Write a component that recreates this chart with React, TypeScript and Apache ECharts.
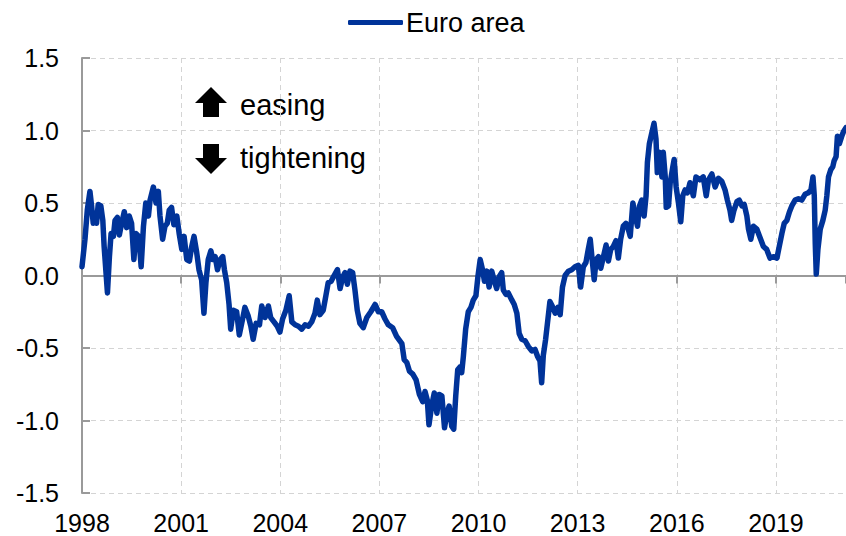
import React, { useEffect, useRef } from "react";
import * as echarts from "echarts";

const seriesName = "Euro area";
const yTicks = [-1.5, -1.0, -0.5, 0.0, 0.5, 1.0, 1.5];
const xTickYears = [1998, 2001, 2004, 2007, 2010, 2013, 2016, 2019];

const dates = [
  1998.00, 1998.09, 1998.16, 1998.24, 1998.29, 1998.34, 1998.39, 1998.44, 1998.49, 1998.57,
  1998.63, 1998.67, 1998.77, 1998.83, 1998.88, 1998.95, 1999.00, 1999.07, 1999.13, 1999.20,
  1999.28, 1999.35, 1999.43, 1999.50, 1999.57, 1999.63, 1999.72, 1999.79, 1999.86, 1999.93,
  2000.01, 2000.06, 2000.16, 2000.24, 2000.31, 2000.36, 2000.44, 2000.51, 2000.58, 2000.64,
  2000.71, 2000.78, 2000.87, 2000.94, 2001.02, 2001.09, 2001.17, 2001.25, 2001.32, 2001.39,
  2001.47, 2001.54, 2001.62, 2001.69, 2001.75, 2001.82, 2001.90, 2001.96, 2002.03, 2002.10,
  2002.18, 2002.26, 2002.31, 2002.38, 2002.45, 2002.50, 2002.58, 2002.68, 2002.76, 2002.86,
  2002.93, 2003.03, 2003.11, 2003.18, 2003.27, 2003.37, 2003.44, 2003.54, 2003.64, 2003.71,
  2003.81, 2003.91, 2003.99, 2004.07, 2004.17, 2004.27, 2004.35, 2004.45, 2004.55, 2004.65,
  2004.75, 2004.85, 2004.95, 2005.05, 2005.12, 2005.20, 2005.30, 2005.38, 2005.45, 2005.54,
  2005.63, 2005.73, 2005.81, 2005.89, 2005.96, 2006.03, 2006.11, 2006.19, 2006.26, 2006.33,
  2006.41, 2006.51, 2006.62, 2006.74, 2006.87, 2006.97, 2007.07, 2007.17, 2007.27, 2007.40,
  2007.52, 2007.68, 2007.75, 2007.83, 2007.91, 2008.01, 2008.11, 2008.21, 2008.31, 2008.38,
  2008.45, 2008.50, 2008.58, 2008.66, 2008.74, 2008.81, 2008.89, 2008.97, 2009.04, 2009.11,
  2009.19, 2009.25, 2009.31, 2009.37, 2009.44, 2009.49, 2009.54, 2009.61, 2009.69, 2009.77,
  2009.84, 2009.92, 2009.98, 2010.05, 2010.12, 2010.18, 2010.25, 2010.32, 2010.40, 2010.48,
  2010.55, 2010.62, 2010.70, 2010.75, 2010.83, 2010.90, 2011.01, 2011.08, 2011.16, 2011.23,
  2011.31, 2011.41, 2011.51, 2011.61, 2011.71, 2011.79, 2011.86, 2011.91, 2011.96, 2012.03,
  2012.10, 2012.16, 2012.23, 2012.32, 2012.40, 2012.47, 2012.54, 2012.62, 2012.72, 2012.82,
  2012.92, 2013.02, 2013.09, 2013.17, 2013.25, 2013.32, 2013.38, 2013.43, 2013.50, 2013.56,
  2013.63, 2013.70, 2013.78, 2013.86, 2013.93, 2014.00, 2014.08, 2014.16, 2014.23, 2014.30,
  2014.38, 2014.46, 2014.53, 2014.59, 2014.67, 2014.74, 2014.81, 2014.87, 2014.94, 2015.01,
  2015.07, 2015.11, 2015.17, 2015.24, 2015.31, 2015.37, 2015.41, 2015.47, 2015.55, 2015.59,
  2015.65, 2015.68, 2015.75, 2015.80, 2015.88, 2015.92, 2015.98, 2016.05, 2016.12, 2016.18,
  2016.25, 2016.32, 2016.40, 2016.50, 2016.58, 2016.70, 2016.80, 2016.89, 2016.96, 2017.06,
  2017.16, 2017.26, 2017.36, 2017.46, 2017.53, 2017.61, 2017.66, 2017.73, 2017.82, 2017.89,
  2017.97, 2018.04, 2018.12, 2018.17, 2018.24, 2018.32, 2018.42, 2018.52, 2018.62, 2018.72,
  2018.82, 2018.92, 2019.03, 2019.10, 2019.18, 2019.25, 2019.33, 2019.41, 2019.48, 2019.58,
  2019.68, 2019.78, 2019.88, 2019.98, 2020.06, 2020.12, 2020.16, 2020.19, 2020.22, 2020.27,
  2020.34, 2020.42, 2020.49, 2020.54, 2020.59, 2020.66, 2020.72, 2020.76, 2020.82, 2020.86,
  2020.92, 2020.99, 2021.04, 2021.12,
];

const values = [
  0.06, 0.25, 0.45, 0.58, 0.48, 0.36, 0.43, 0.36, 0.49, 0.48,
  0.38, 0.20, -0.12, 0.13, 0.29, 0.27, 0.38, 0.40, 0.28, 0.36,
  0.44, 0.33, 0.41, 0.36, 0.11, 0.29, 0.27, 0.06, 0.34, 0.50,
  0.41, 0.52, 0.61, 0.50, 0.58, 0.41, 0.25, 0.34, 0.36, 0.45,
  0.47, 0.35, 0.41, 0.29, 0.18, 0.27, 0.11, 0.10, 0.20, 0.27,
  0.16, 0.04, -0.03, -0.26, -0.05, 0.11, 0.17, 0.11, 0.13, 0.04,
  0.11, 0.13, 0.04, -0.05, -0.20, -0.37, -0.24, -0.25, -0.41, -0.30,
  -0.22, -0.28, -0.35, -0.44, -0.33, -0.34, -0.21, -0.29, -0.21, -0.29,
  -0.32, -0.35, -0.39, -0.30, -0.24, -0.14, -0.32, -0.34, -0.35, -0.37,
  -0.34, -0.35, -0.32, -0.26, -0.17, -0.27, -0.24, -0.14, -0.05, -0.04,
  0.00, 0.04, -0.09, -0.01, 0.02, -0.06, 0.03, 0.02, -0.10, -0.24,
  -0.33, -0.36, -0.29, -0.25, -0.20, -0.25, -0.25, -0.30, -0.34, -0.36,
  -0.42, -0.47, -0.58, -0.60, -0.66, -0.68, -0.72, -0.82, -0.87, -0.80,
  -0.86, -1.03, -0.90, -0.81, -0.95, -0.82, -0.83, -1.05, -0.95, -0.90,
  -1.04, -1.06, -0.83, -0.65, -0.63, -0.67, -0.56, -0.37, -0.25, -0.22,
  -0.17, -0.14, -0.01, 0.11, 0.04, -0.04, 0.03, -0.08, 0.03, -0.04,
  -0.09, -0.01, 0.02, -0.10, -0.13, -0.12, -0.17, -0.20, -0.26, -0.40,
  -0.44, -0.45, -0.49, -0.52, -0.51, -0.56, -0.59, -0.74, -0.55, -0.44,
  -0.30, -0.18, -0.21, -0.26, -0.22, -0.27, -0.08, 0.00, 0.03, 0.04,
  0.06, 0.07, -0.08, 0.06, 0.09, 0.18, 0.25, 0.13, -0.03, 0.11,
  0.13, 0.05, 0.13, 0.21, 0.10, 0.18, 0.20, 0.24, 0.12, 0.25,
  0.34, 0.36, 0.32, 0.27, 0.50, 0.41, 0.34, 0.48, 0.52, 0.41,
  0.55, 0.78, 0.91, 0.98, 1.05, 0.94, 0.71, 0.85, 0.68, 0.85,
  0.68, 0.47, 0.48, 0.64, 0.75, 0.80, 0.61, 0.50, 0.37, 0.55,
  0.59, 0.57, 0.64, 0.55, 0.68, 0.66, 0.68, 0.55, 0.66, 0.70,
  0.61, 0.67, 0.65, 0.59, 0.52, 0.45, 0.38, 0.45, 0.51, 0.52,
  0.48, 0.49, 0.41, 0.32, 0.25, 0.34, 0.32, 0.26, 0.20, 0.18,
  0.12, 0.13, 0.12, 0.20, 0.29, 0.36, 0.38, 0.44, 0.48, 0.52,
  0.53, 0.52, 0.56, 0.57, 0.59, 0.68, 0.55, 0.22, 0.01, 0.18,
  0.32, 0.38, 0.45, 0.55, 0.68, 0.73, 0.75, 0.79, 0.82, 0.96,
  0.91, 0.96, 0.99, 1.02,
];

const FONT = "'Liberation Sans', Arial, Helvetica, sans-serif";
const X_MIN = 1998;
const X_MAX = 2021.12;

export default function App() {
  const ref = useRef<HTMLDivElement>(null);

  useEffect(() => {
    document.body.style.margin = "0";
    if (!ref.current) return;
    const chart = echarts.init(ref.current, null, { renderer: "svg" });

    const labelFmt = (v: number) => {
      const k = (v - X_MIN) / 3;
      const r = Math.round(k);
      if (Math.abs(k - r) < 1e-6 && xTickYears.includes(X_MIN + r * 3)) return String(X_MIN + r * 3);
      return "";
    };

    const option: any = {
      animation: false,
      backgroundColor: "#ffffff",
      textStyle: { fontFamily: FONT },
      legend: {
        data: [seriesName],
        left: 343,
        top: 4,
        icon: "roundRect",
        itemWidth: 55,
        itemHeight: 5,
        itemGap: 0,
        textStyle: { fontFamily: FONT, fontSize: 27, color: "#000", padding: [0, 0, 0, -2] },
      },
      grid: { left: 82, right: 0, top: 58, bottom: 43, containLabel: false },
      xAxis: [
        {
          type: "value",
          min: X_MIN,
          max: X_MAX,
          interval: 3,
          position: "bottom",
          axisLine: { show: false, onZero: false },
          axisTick: { show: false },
          axisLabel: {
            show: true,
            formatter: labelFmt,
            fontFamily: FONT,
            fontSize: 25,
            color: "#000",
            margin: 17,
            showMaxLabel: false,
          },
          splitLine: { show: true, lineStyle: { color: "#d4d4d4", type: [5, 4], width: 1 } },
        },
        {
          type: "value",
          min: X_MIN,
          max: X_MAX,
          interval: 3,
          position: "top",
          axisLine: { show: true, onZero: true, lineStyle: { color: "#9a9a9a", width: 2 } },
          axisTick: { show: true, inside: true, length: 8, lineStyle: { color: "#9a9a9a", width: 2 } },
          axisLabel: { show: false },
          splitLine: { show: false },
        },
      ],
      yAxis: {
        type: "value",
        min: -1.5,
        max: 1.5,
        interval: 0.5,
        axisLine: { show: true, lineStyle: { color: "#9a9a9a", width: 2 } },
        axisTick: { show: true, inside: true, length: 8, lineStyle: { color: "#9a9a9a", width: 2 } },
        axisLabel: {
          formatter: (v: number) => (yTicks.some((t) => Math.abs(t - v) < 1e-9) ? v.toFixed(1) : ""),
          fontFamily: FONT,
          fontSize: 25,
          color: "#000",
          margin: 23,
        },
        splitLine: { show: true, lineStyle: { color: "#d4d4d4", type: [5, 4], width: 1 } },
      },
      graphic: [
        {
          type: "polygon",
          shape: { points: [[211, 87], [227, 103], [219, 103], [219, 117], [203, 117], [203, 103], [195, 103]] },
          style: { fill: "#000" },
        },
        {
          type: "polygon",
          shape: { points: [[203, 144], [219, 144], [219, 158], [227, 158], [211, 174], [195, 158], [203, 158]] },
          style: { fill: "#000" },
        },
        {
          type: "text",
          x: 240,
          y: 105,
          style: { text: "easing", font: `29px ${FONT}`, fill: "#000", verticalAlign: "middle", align: "left" },
        },
        {
          type: "text",
          x: 240,
          y: 158,
          style: { text: "tightening", font: `29px ${FONT}`, fill: "#000", verticalAlign: "middle", align: "left" },
        },
      ],
      series: [
        {
          name: seriesName,
          type: "line",
          xAxisIndex: 0,
          data: dates.map((d, i) => [d, values[i]]),
          showSymbol: false,
          symbol: "none",
          color: "#003399",
          lineStyle: { color: "#003399", width: 5.5, join: "round", cap: "round" },
        },
      ],
    };

    chart.setOption(option);
    return () => chart.dispose();
  }, []);

  return <div ref={ref} style={{ width: 846, height: 536 }} />;
}
